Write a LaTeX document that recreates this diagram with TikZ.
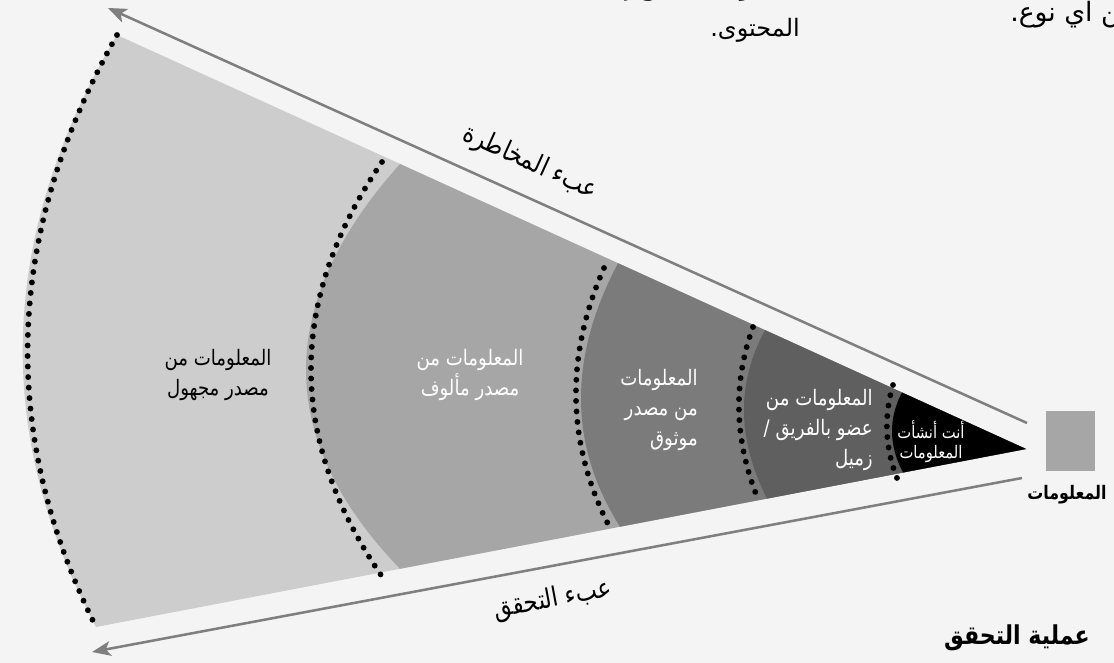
\documentclass[tikz,border=0pt]{standalone}
\usepackage{fontspec}
\newfontfamily\arabicfont[Script=Arabic, FakeStretch=0.85]{DejaVu Sans}
\newfontfamily\arabicwide[Script=Arabic]{DejaVu Sans}
\TeXXeTstate=1
\usetikzlibrary{arrows.meta}
\definecolor{bg}{HTML}{F4F4F4}
\definecolor{bandA}{HTML}{CDCDCE}
\definecolor{bandB}{HTML}{A6A6A7}
\definecolor{bandC}{HTML}{7B7B7C}
\definecolor{bandD}{HTML}{5F5F60}
\definecolor{sqgray}{HTML}{A6A6A6}
\definecolor{arrowgray}{HTML}{7F7F7F}
\newcommand\AR[1]{\beginR #1\endR}
\begin{document}
\begin{tikzpicture}[x=0.75pt,y=-0.75pt,
  dotline/.style={line width=4.4pt, dash pattern=on 0pt off 7.9pt, line cap=round},
  burden/.style={draw=arrowgray, line width=1.9pt, -{Stealth[length=14pt,width=11pt,inset=3.5pt]}},
  lbl/.style={font=\arabicfont\fontsize{16}{22.5}\selectfont, align=center, inner sep=0pt},
  small/.style={font=\arabicfont\fontsize{13}{15}\selectfont, align=center, inner sep=0pt},
  top/.style={font=\arabicwide\fontsize{18}{22}\selectfont, inner sep=0pt},
  bold/.style={font=\arabicfont\bfseries\fontsize{14}{16}\selectfont, inner sep=0pt},
  boldbig/.style={font=\arabicfont\bfseries\fontsize{19.5}{22}\selectfont, inner sep=0pt},
  axislbl/.style={font=\arabicfont\fontsize{20}{22}\selectfont, inner sep=0pt},
]
\useasboundingbox (0,0) rectangle (1114,663);
\fill[bg] (0,0) rectangle (1114,663);

% apex
\coordinate (A) at (1026,449);

% band fills
\fill[bandA] (117,35) .. controls (-1.3,233.7) and (-8.3,431) .. (96,627) -- (A) -- cycle;
\fill[bandB] (400,164) .. controls (274.7,303.7) and (274.7,438.7) .. (400,568.8) -- (A) -- cycle;
\fill[bandC] (618,263.2) .. controls (568,357.8) and (568.7,445.6) .. (620,526.7) -- (A) -- cycle;
\fill[bandD] (765,330.1) .. controls (736.3,383.1) and (737,439.3) .. (767,498.6) -- (A) -- cycle;
\fill[black] (902,392.5) .. controls (888.3,418.5) and (888.7,445.2) .. (903,472.5) -- (A) -- cycle;

% dotted arcs
\draw[dotline] (117,35) .. controls (5.3,233.7) and (-1.7,431) .. (96,627);
\draw[dotline] (382,162) .. controls (287,300.7) and (287.3,439.3) .. (383,578);
\draw[dotline] (604,268) .. controls (564.7,357.3) and (566.7,444) .. (610,528);
\draw[dotline] (753,327) .. controls (732.7,383) and (734.3,440.3) .. (758,499);
\draw[dotline] (893,385) .. controls (883.7,416.7) and (885,447.7) .. (897,478);

% burden arrows
\coordinate (riskS) at (1027,423);
\coordinate (riskE) at (108,8);
\coordinate (verS) at (1022,478);
\coordinate (verE) at (92,652);
\draw[burden] (riskS) -- (riskE);
\draw[burden] (verS) -- (verE);

\node[axislbl, rotate=-24.4] (risk) at (530,163) {\AR{عبء المخاطرة}};
\node[axislbl, rotate=10.6] (ver) at (553,600) {\AR{عبء التحقق}};

% band labels
\node[lbl] (l1) at (218,375) {\AR{المعلومات من}\\\AR{مصدر مجهول}};
\node[lbl, text=white] (l2) at (470,375) {\AR{المعلومات من}\\\AR{مصدر مألوف}};
\node[lbl, text=white, align=right, anchor=east] (l3) at (698,410) {\AR{المعلومات}\\\AR{من مصدر}\\\AR{موثوق}};
\node[lbl, text=white, align=right, anchor=east] (l4) at (873,430) {\AR{المعلومات من}\\\AR{عضو بالفريق /}\\\AR{زميل}};
\node[small, text=white] (l5) at (931,442) {\AR{أنت أنشأت}\\\AR{المعلومات}};

% information square
\fill[sqgray] (1046,411) rectangle (1095,471);
\node[bold] (info) at (1067,495) {\AR{المعلومات}};

\node[boldbig] (proc) at (1017,638) {\AR{عملية التحقق}};

% clipped top texts
\node[top, anchor=base east] (t1) at (800,-4) {\AR{المعلومات تحتاج إلى}};
\node[top, anchor=base east] (t2) at (800,37) {\AR{المحتوى.}};
\node[top, font=\arabicwide\fontsize{20}{22}\selectfont, anchor=base west] (t3) at (1010,22) {\AR{ضرر من اي نوع.}};
\end{tikzpicture}
\end{document}
